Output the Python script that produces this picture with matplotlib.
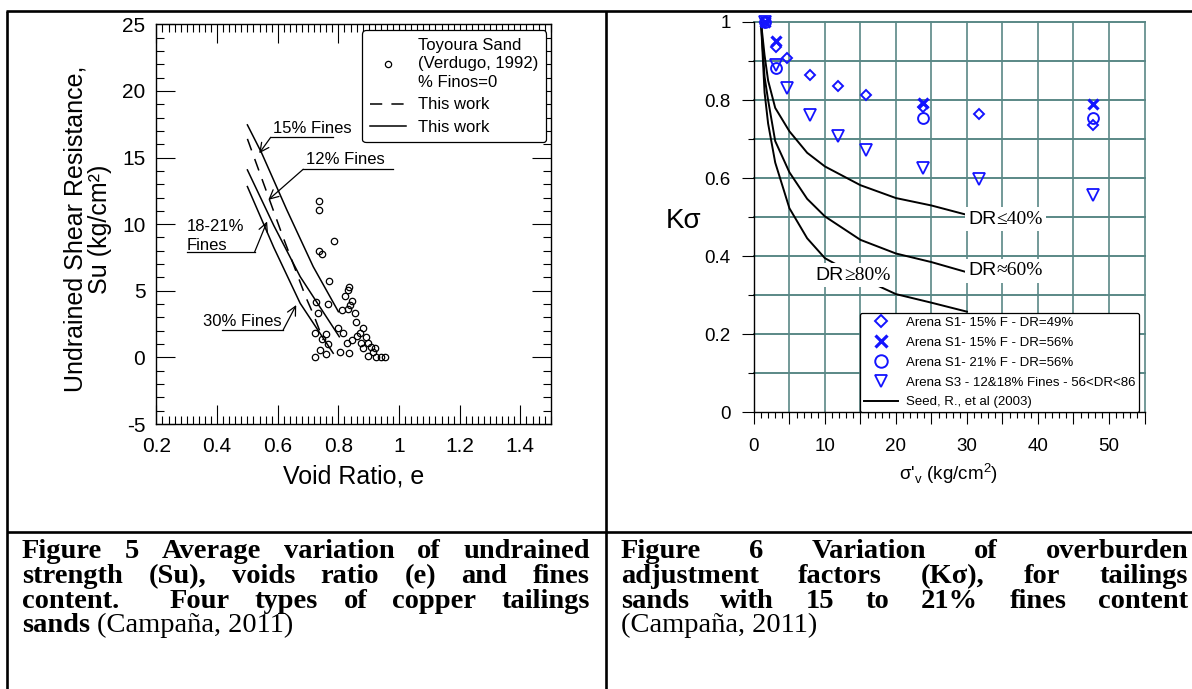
import matplotlib.pyplot as plt
import numpy as np
from matplotlib.lines import Line2D
from matplotlib.ticker import MultipleLocator, FuncFormatter
from matplotlib.offsetbox import TextArea, HPacker, AnnotationBbox

plt.rcParams['font.family'] = ['Liberation Sans', 'DejaVu Sans']
plt.rcParams['mathtext.fontset'] = 'custom'
plt.rcParams['mathtext.rm'] = 'Liberation Sans'

# ---------------- Figure 5 data: void ratio e vs Su ----------------
toyoura_e = [0.737, 0.736, 0.787, 0.736, 0.745, 0.769, 0.834, 0.831, 0.823, 0.844,
             0.838, 0.767, 0.813, 0.833, 0.855, 0.858, 0.726, 0.734, 0.880, 0.800,
             0.816, 0.871, 0.862, 0.891, 0.844, 0.828, 0.875, 0.899, 0.907, 0.882,
             0.921, 0.915, 0.899, 0.924, 0.940, 0.953, 0.805, 0.834, 0.723, 0.758,
             0.745, 0.765, 0.739, 0.759, 0.723]
toyoura_su = [11.76, 11.07, 8.74, 7.99, 7.76, 5.74, 5.31, 5.06, 4.61, 4.26,
              3.93, 3.99, 3.56, 3.61, 3.31, 2.68, 4.18, 3.31, 2.18, 2.18,
              1.81, 1.85, 1.60, 1.55, 1.31, 1.10, 1.06, 1.10, 0.80, 0.68,
              0.68, 0.43, 0.10, 0.05, 0.05, 0.05, 0.38, 0.35, 1.81, 1.73,
              1.36, 1.01, 0.56, 0.26, 0.05]

fines15_e = [0.5, 0.547, 0.63, 0.717, 0.8]
fines15_su = [17.45, 15.34, 11.07, 6.81, 3.43]
fines12_e = [0.5, 0.617, 0.693, 0.72, 0.75]          # dashed
fines12_su = [16.4, 9.06, 4.5, 3.1, 1.3]
fines18_e = [0.5, 0.587, 0.674, 0.803]
fines18_su = [14.07, 9.9, 6.06, 1.55]
fines30_e = [0.5, 0.587, 0.674, 0.783]
fines30_su = [12.82, 8.25, 4.06, 0.31]

# ---------------- Figure 6 data: sigma'v vs K_sigma ----------------
sig_d49 = [1.5, 3.1, 4.7, 7.9, 11.9, 15.8, 23.8, 31.7, 47.7]
k_d49 = [1.0, 0.937, 0.907, 0.864, 0.837, 0.813, 0.782, 0.764, 0.736]
sig_x56 = [1.5, 3.1, 23.8, 47.7]
k_x56 = [1.0, 0.951, 0.792, 0.79]
sig_o56 = [1.5, 3.1, 23.8, 47.7]
k_o56 = [1.0, 0.881, 0.753, 0.753]
sig_s3 = [1.5, 3.1, 4.7, 7.9, 11.9, 15.8, 23.8, 31.7, 47.7]
k_s3 = [1.0, 0.89, 0.832, 0.762, 0.709, 0.672, 0.627, 0.598, 0.557]

sig_seed = [1, 1.5, 2, 3, 5, 7.5, 10, 15, 20, 25, 30]
k_dr40 = [1.0, 0.915, 0.85, 0.78, 0.72, 0.665, 0.63, 0.582, 0.549, 0.53, 0.506]
k_dr60 = [1.0, 0.86, 0.80, 0.695, 0.615, 0.547, 0.502, 0.442, 0.407, 0.385, 0.359]
k_dr80 = [1.0, 0.82, 0.74, 0.64, 0.523, 0.446, 0.395, 0.345, 0.303, 0.281, 0.258]

W, H = 1192, 689
fig = plt.figure(figsize=(W / 100, H / 100), dpi=100)


def fx(px):
    return px / W


def fy(py):
    return 1 - py / H


# ---------------- left panel ----------------
ax1 = fig.add_axes([fx(156.4), fy(424), (550.7 - 156.4) / W, (424 - 24.3) / H])
ax1.plot(toyoura_e, toyoura_su, ls='none', marker='o', mfc='none', mec='k', ms=4.6, mew=0.9)
ax1.plot(fines15_e, fines15_su, color='k', lw=1.1)
ax1.plot(fines12_e, fines12_su, color='k', lw=1.1, ls=(0, (8, 6)))
ax1.plot(fines18_e, fines18_su, color='k', lw=1.1)
ax1.plot(fines30_e, fines30_su, color='k', lw=1.1)
ax1.set_xlim(0.2, 1.5)
ax1.set_ylim(-5, 25)
ax1.xaxis.set_major_locator(MultipleLocator(0.2))
ax1.xaxis.set_minor_locator(MultipleLocator(0.02))
ax1.yaxis.set_major_locator(MultipleLocator(5))
ax1.yaxis.set_minor_locator(MultipleLocator(1))
ax1.xaxis.set_major_formatter(FuncFormatter(lambda v, p: f"{v:g}" if v < 1.45 else ""))
ax1.yaxis.set_major_formatter(FuncFormatter(lambda v, p: f"{v:g}"))
ax1.tick_params(which='both', direction='in', top=True, right=True, width=0.8)
ax1.tick_params(which='major', length=13.5, labelsize=15)
ax1.tick_params(which='minor', length=6)
ax1.tick_params(axis='x', pad=9)
ax1.tick_params(axis='y', pad=8)
for s in ax1.spines.values():
    s.set_linewidth(1.0)

ann = dict(arrowstyle='->', lw=0.9, color='k', shrinkA=0, shrinkB=0, mutation_scale=16)
# 15% Fines
ax1.text(0.585, 17.2, "15% Fines", fontsize=12, va='center')
ax1.plot([0.577, 0.783], [16.52, 16.52], color='k', lw=0.9)
ax1.annotate('', xy=(0.539, 15.32), xytext=(0.577, 16.52), arrowprops=ann)
# 12% Fines
ax1.text(0.693, 14.82, "12% Fines", fontsize=12, va='center')
ax1.plot([0.684, 0.979], [14.12, 14.12], color='k', lw=0.9)
ax1.annotate('', xy=(0.569, 11.82), xytext=(0.684, 14.12), arrowprops=ann)
# 18-21% Fines
ax1.text(0.30, 9.1, "18-21%\nFines", fontsize=12, va='center', linespacing=1.35)
ax1.plot([0.30, 0.5235], [7.89, 7.89], color='k', lw=0.9)
ax1.annotate('', xy=(0.565, 10.2), xytext=(0.5235, 7.89), arrowprops=ann)
# 30% Fines
ax1.text(0.353, 2.72, "30% Fines", fontsize=12, va='center')
ax1.plot([0.416, 0.618], [2.06, 2.06], color='k', lw=0.9)
ax1.annotate('', xy=(0.661, 3.93), xytext=(0.618, 2.06), arrowprops=ann)

h1 = Line2D([], [], ls='none', marker='o', mfc='none', mec='k', ms=4.5, mew=0.9)
h2 = Line2D([], [], color='k', lw=1.1, ls=(0, (8, 6)))
h3 = Line2D([], [], color='k', lw=1.1)
leg1 = ax1.legend([h1, h2, h3], ["Toyoura Sand\n(Verdugo, 1992)\n% Finos=0", "This work", "This work"],
                  loc='upper right', bbox_to_anchor=(0.988, 0.985), fontsize=12,
                  handlelength=2.2, handletextpad=0.7, borderpad=0.45, labelspacing=0.45,
                  borderaxespad=0, framealpha=1, fancybox=True)
leg1.get_texts()[0].set_linespacing(1.3)
leg1.get_frame().set_edgecolor('k')
leg1.get_frame().set_linewidth(0.9)

fig.text(fx(88), fy(229), "Undrained Shear Resistance,\nSu (kg/cm\u00b2)", rotation=90,
         ha='center', va='center', multialignment='center', fontsize=18, linespacing=1.0)
fig.text(fx(353.5), fy(476.7), "Void Ratio, e", ha='center', va='center', fontsize=18)

# ---------------- right panel ----------------
ax2 = fig.add_axes([fx(753.9), fy(412.4), (1144.5 - 753.9) / W, (412.4 - 22) / H])
ax2.set_xlim(0, 55)
ax2.set_ylim(0, 1)
ax2.xaxis.set_major_locator(MultipleLocator(5))
ax2.xaxis.set_minor_locator(MultipleLocator(1))
ax2.yaxis.set_major_locator(MultipleLocator(0.2))
ax2.yaxis.set_minor_locator(MultipleLocator(0.1))
ax2.xaxis.set_major_formatter(FuncFormatter(lambda v, p: f"{v:g}" if round(v) % 10 == 0 and v < 54 else ""))
ax2.yaxis.set_major_formatter(FuncFormatter(lambda v, p: f"{v:g}"))
ax2.tick_params(which='both', direction='out', width=0.8)
ax2.tick_params(which='major', length=8.7, labelsize=13.5)
ax2.tick_params(which='minor', length=4.5)
ax2.tick_params(axis='x', pad=10)
ax2.tick_params(axis='y', pad=8)
ax2.spines['top'].set_visible(False)
ax2.spines['right'].set_visible(False)
for s in ('left', 'bottom'):
    ax2.spines[s].set_linewidth(1.0)
    ax2.spines[s].set_zorder(4)

gcol = '#5a8886'
for v in np.arange(5, 56, 5):
    ax2.axvline(v, color=gcol, lw=1.2, zorder=0, clip_on=False)
for v in np.arange(0.1, 1.01, 0.1):
    ax2.axhline(v, color=gcol, lw=1.4, zorder=0, clip_on=False)

ax2.plot(sig_seed, k_dr40, color='k', lw=1.4, zorder=2)
ax2.plot(sig_seed, k_dr60, color='k', lw=1.4, zorder=2)
ax2.plot(sig_seed, k_dr80, color='k', lw=1.4, zorder=2)

blue = '#1414ff'
ax2.plot(sig_d49, k_d49, ls='none', marker='D', ms=5.3, mfc='none', mec=blue, mew=1.4, zorder=3, clip_on=False)
ax2.plot(sig_x56, k_x56, ls='none', marker='x', ms=7.5, mec=blue, mew=2.3, zorder=3, clip_on=False)
ax2.plot(sig_o56, k_o56, ls='none', marker='o', ms=7.8, mfc='none', mec=blue, mew=1.4, zorder=3, clip_on=False)
ax2.plot(sig_s3, k_s3, ls='none', marker='v', ms=8.2, mfc='none', mec=blue, mew=1.3, zorder=3, clip_on=False)

# curve labels: "DR" in sans, relation and percentage in serif, on a white patch
for xs, ys, rest in [(30.15, 0.495, "\u226440%"), (30.15, 0.363, "\u224860%"), (8.7, 0.351, "\u226580%")]:
    t1 = TextArea("DR", textprops=dict(fontsize=14, family='Liberation Sans'))
    t2 = TextArea(rest, textprops=dict(fontsize=14, family='Liberation Serif'))
    pack = HPacker(children=[t1, t2], align='baseline', pad=0, sep=0)
    ab = AnnotationBbox(pack, (xs, ys), box_alignment=(0, 0.5), frameon=True, pad=0.25,
                        bboxprops=dict(facecolor='white', edgecolor='none'), zorder=5)
    ax2.add_artist(ab)

lh = [Line2D([], [], ls='none', marker='D', ms=6.5, mfc='none', mec=blue, mew=1.4),
      Line2D([], [], ls='none', marker='x', ms=8.5, mec=blue, mew=2.3),
      Line2D([], [], ls='none', marker='o', ms=9, mfc='none', mec=blue, mew=1.4),
      Line2D([], [], ls='none', marker='v', ms=9, mfc='none', mec=blue, mew=1.3),
      Line2D([], [], color='k', lw=1.4)]
ll = ["Arena S1- 15% F - DR=49%", "Arena S1- 15% F - DR=56%", "Arena S1- 21% F - DR=56%",
      "Arena S3 - 12&18% Fines - 56<DR<86", "Seed, R., et al (2003)"]
leg2 = ax2.legend(lh, ll, loc='lower right', bbox_to_anchor=(0.987, 0.0), fontsize=9.5,
                  handlelength=2.6, handletextpad=0.6, borderpad=0.3, labelspacing=0.58,
                  borderaxespad=0, framealpha=1, fancybox=True)
leg2.get_frame().set_edgecolor('k')
leg2.get_frame().set_linewidth(0.9)
leg2.set_zorder(6)

fig.text(fx(684), fy(221), "K\u03c3", ha='center', va='center', fontsize=20)
fig.text(fx(949), fy(473.3), "\u03c3'$_\\mathregular{v}$ (kg/cm$^\\mathregular{2}$)", ha='center',
         va='center', fontsize=13.5)

# ---------------- table lines ----------------
for (x0, y0, x1, y1) in [(6, 11, W, 11), (7, 11, 7, H), (605.7, 11, 605.7, H), (7, 531.7, W, 531.7)]:
    fig.add_artist(Line2D([fx(x0), fx(x1)], [fy(y0), fy(y1)], transform=fig.transFigure,
                          color='k', lw=1.9, solid_capstyle='butt'))

# ---------------- captions ----------------
cap_fs = 20.5
renderer = fig.canvas.get_renderer()


def put_words(words, x0, x1, yb, justify=True):
    objs = [fig.text(0, fy(yb), w, fontsize=cap_fs, fontweight=wt, family='Liberation Serif',
                     va='baseline', ha='left') for w, wt, g in words]
    widths = [o.get_window_extent(renderer).width for o in objs]
    sp = fig.text(0, 0, "a a", fontsize=cap_fs, family='Liberation Serif')
    sa = fig.text(0, 0, "aa", fontsize=cap_fs, family='Liberation Serif')
    space = sp.get_window_extent(renderer).width - sa.get_window_extent(renderer).width
    sp.remove()
    sa.remove()
    gaps = [g for w, wt, g in words[1:]] + [0]
    if justify and len(objs) > 1:
        unit = (x1 - x0 - sum(widths)) / sum(gaps)
    else:
        unit = space
    x = x0
    for o, wdt, g in zip(objs, widths, gaps):
        o.set_x(fx(x))
        x += wdt + unit * g


def line(text, weight='bold'):
    out = []
    g = 1
    for p in text.split(' '):
        if p == '':
            g += 1
            continue
        out.append((p, weight, g))
        g = 1
    return out


baselines = [558, 582.8, 607.6, 632.4]
put_words(line("Figure 5 Average variation of undrained"), 22, 590, baselines[0])
put_words(line("strength (Su), voids ratio (e) and fines"), 22, 590, baselines[1])
put_words(line("content.  Four types of copper tailings"), 22, 590, baselines[2])
put_words([("sands", 'bold', 1), ("(Campa\u00f1a, 2011)", 'normal', 1)], 22, 590, baselines[3], justify=False)
put_words(line("Figure 6 Variation of overburden"), 620.7, 1188, baselines[0])
put_words(line("adjustment factors (K\u03c3), for tailings"), 620.7, 1188, baselines[1])
put_words(line("sands with 15 to 21% fines content"), 620.7, 1188, baselines[2])
put_words([("(Campa\u00f1a, 2011)", 'normal', 1)], 620.7, 1188, baselines[3], justify=False)

fig.savefig("out.png", dpi=100)
